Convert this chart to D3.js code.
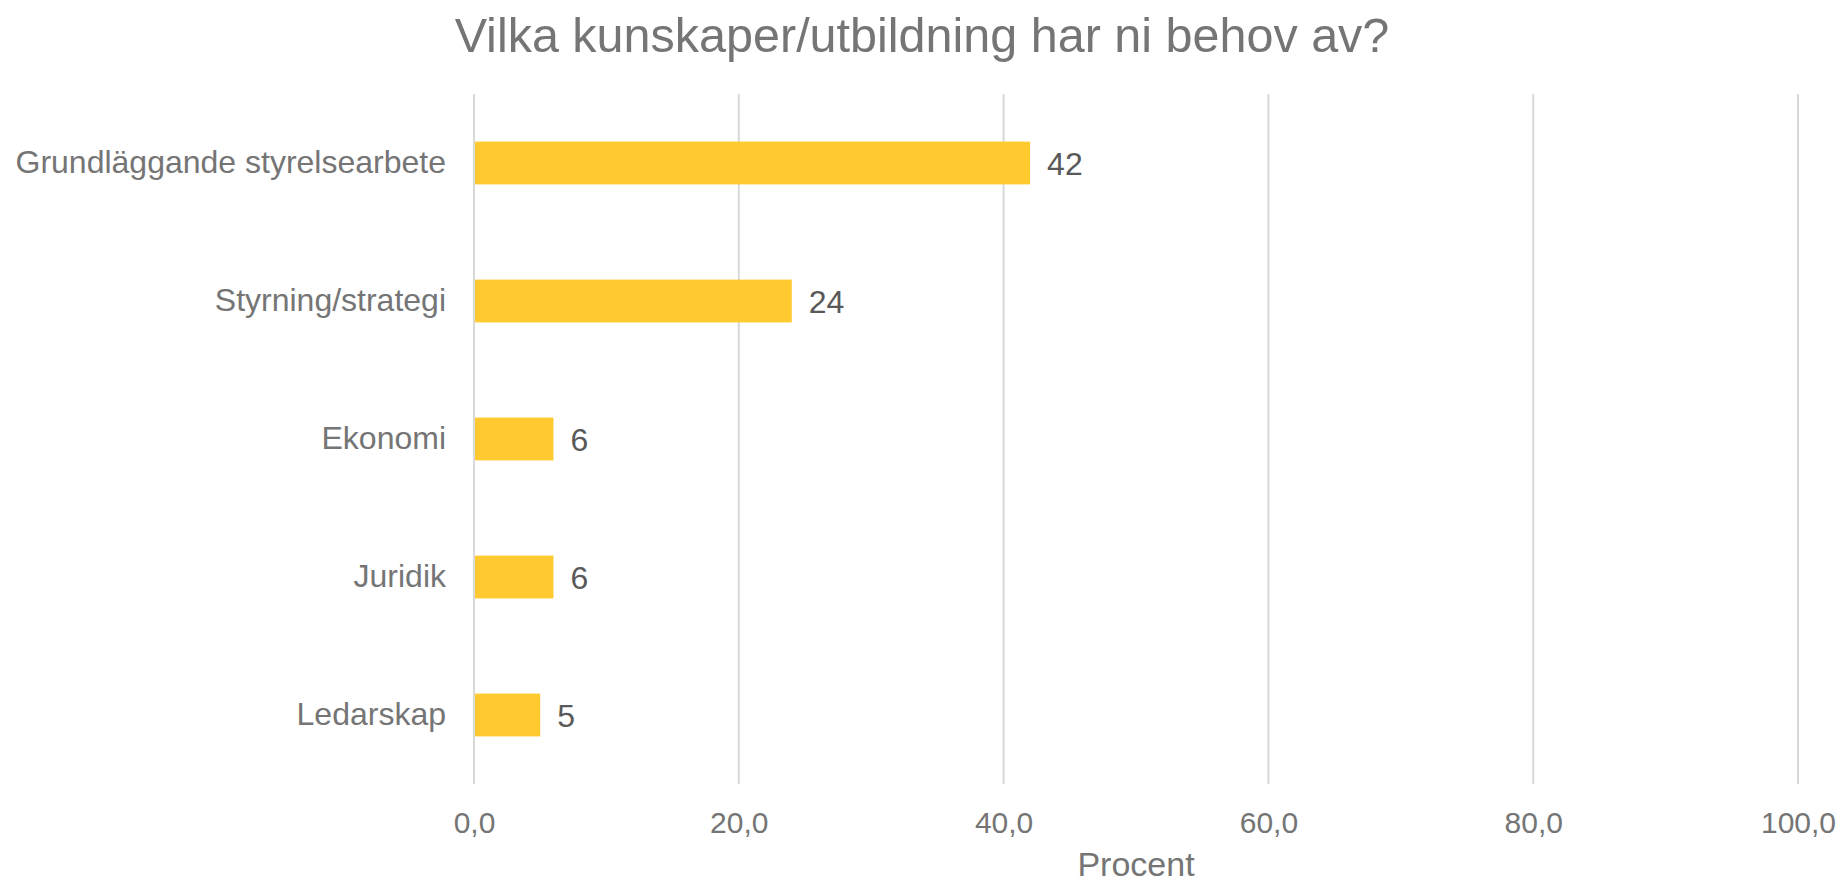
<!DOCTYPE html>
<html>
<head>
<meta charset="utf-8">
<script src="https://cdn.jsdelivr.net/npm/d3@7"></script>
<style>
  html, body { margin: 0; padding: 0; background: #fff; }
  svg { display: block; font-family: "Liberation Sans", Arial, Helvetica, sans-serif; }
</style>
</head>
<body>
<svg id="chart" width="1844" height="884"></svg>
<script>
// Survey answers: which knowledge / training is needed (percent)
const categories = [
  "Grundläggande styrelsearbete",
  "Styrning/strategi",
  "Ekonomi",
  "Juridik",
  "Ledarskap"
];
const values = [42, 24, 6, 6, 5];
const xTicks = [0, 20, 40, 60, 80, 100];
const titleText = "Vilka kunskaper/utbildning har ni behov av?";
const xAxisTitle = "Procent";

const W = 1844, H = 884;
const margin = { top: 94, right: 46, bottom: 100, left: 474 };

const svg = d3.select("#chart");

const x = d3.scaleLinear()
  .domain([0, 100])
  .range([margin.left, W - margin.right]);

const y = d3.scaleBand()
  .domain(categories)
  .range([margin.top, H - margin.bottom])
  .paddingInner(0.69)
  .paddingOuter(0.345);

// Vertical gridlines
svg.append("g")
  .selectAll("line")
  .data(xTicks)
  .join("line")
  .attr("x1", d => x(d))
  .attr("x2", d => x(d))
  .attr("y1", margin.top)
  .attr("y2", H - margin.bottom)
  .attr("stroke", "#d9d9d9")
  .attr("stroke-width", 2);

// Bars
svg.append("g")
  .selectAll("rect")
  .data(values)
  .join("rect")
  .attr("x", x(0) + 1)
  .attr("y", (d, i) => y(categories[i]))
  .attr("width", d => x(d) - x(0) - 1)
  .attr("height", y.bandwidth())
  .attr("fill", "#ffca2f");

// Value labels
svg.append("g")
  .selectAll("text")
  .data(values)
  .join("text")
  .attr("x", d => x(d) + 17)
  .attr("y", (d, i) => y(categories[i]) + y.bandwidth() / 2)
  .attr("dy", "0.36em")
  .attr("font-size", 32)
  .attr("fill", "#595959")
  .text(d => d);

// Category axis (left)
const yAxis = d3.axisLeft(y).tickSize(0).tickPadding(28);
const gy = svg.append("g")
  .attr("transform", `translate(${x(0)},0)`)
  .call(yAxis);
gy.select(".domain").remove();
gy.selectAll("text")
  .attr("font-size", 32)
  .attr("font-family", "\"Liberation Sans\", Arial, Helvetica, sans-serif")
  .attr("fill", "#757575");

// Value axis (bottom)
const fmt = d => d3.format(".1f")(d).replace(".", ",");
const xAxis = d3.axisBottom(x).tickValues(xTicks).tickFormat(fmt).tickSize(0).tickPadding(28);
const gx = svg.append("g")
  .attr("transform", `translate(0,${H - margin.bottom})`)
  .call(xAxis);
gx.select(".domain").remove();
gx.selectAll("text")
  .attr("font-size", 30)
  .attr("font-family", "\"Liberation Sans\", Arial, Helvetica, sans-serif")
  .attr("fill", "#757575");

// Axis title
svg.append("text")
  .attr("x", (x(0) + x(100)) / 2)
  .attr("y", 876)
  .attr("text-anchor", "middle")
  .attr("font-size", 34)
  .attr("fill", "#757575")
  .text(xAxisTitle);

// Chart title
svg.append("text")
  .attr("x", W / 2)
  .attr("y", 52)
  .attr("text-anchor", "middle")
  .attr("font-size", 48.5)
  .attr("fill", "#757575")
  .text(titleText);
</script>
</body>
</html>
